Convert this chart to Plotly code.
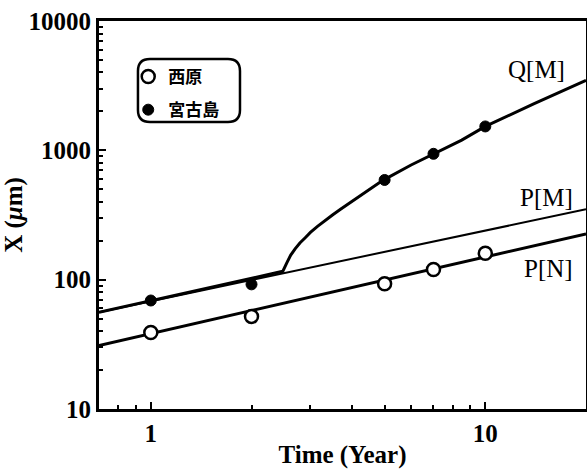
import plotly.graph_objects as go
import numpy as np

# Data
years_obs = [1, 2, 5, 7, 10]
nishihara = [39, 52, 93, 120, 160]          # open circles (西原)
miyako = [69, 92, 590, 940, 1530]           # filled circles (宮古島)

pn_x = [0.7, 20]
pn_y = [31, 226]                            # P[N] line
pm_x = [0.7, 20]
pm_y = [56, 350]                            # P[M] line
q_x = [0.7, 2.48, 2.55, 2.62, 2.7, 2.79, 2.9, 3.0, 3.15, 3.3, 3.5, 3.7, 3.95, 4.2, 4.5, 4.94, 6, 7, 8.5, 10, 14, 20]
q_y = [56, 116, 135, 155, 173, 192, 212, 232, 258, 285, 318, 352, 395, 438, 495, 586, 770, 940, 1200, 1530, 2300, 3470]  # Q[M] curve

SERIF = "Liberation Serif"
CJK = "Noto Sans CJK JP"

fig = go.Figure()
fig.add_trace(go.Scatter(x=pn_x, y=pn_y, mode="lines", line=dict(color="black", width=3),
                         showlegend=False, hoverinfo="skip"))
fig.add_trace(go.Scatter(x=pm_x, y=pm_y, mode="lines", line=dict(color="black", width=2),
                         showlegend=False, hoverinfo="skip"))
fig.add_trace(go.Scatter(x=q_x, y=q_y, mode="lines", line=dict(color="black", width=3, shape="linear"),
                         showlegend=False, hoverinfo="skip"))
fig.add_trace(go.Scatter(x=years_obs, y=nishihara, mode="markers", name="西原", legendgroup="a",
                         marker=dict(symbol="circle", size=13, color="white",
                                     line=dict(color="black", width=2.5))))
fig.add_trace(go.Scatter(x=years_obs, y=miyako, mode="markers", name="宮古島", legendgroup="b",
                         marker=dict(symbol="circle", size=11, color="black",
                                     line=dict(color="black", width=1))))

# rounded legend frame (paper coords)
x0, x1, y0, y1 = 0.080, 0.2895, 0.740, 0.902
rx, ry = 12 / 487, 12 / 388
path = (f"M {x0+rx},{y1} L {x1-rx},{y1} Q {x1},{y1} {x1},{y1-ry} "
        f"L {x1},{y0+ry} Q {x1},{y0} {x1-rx},{y0} L {x0+rx},{y0} "
        f"Q {x0},{y0} {x0},{y0+ry} L {x0},{y1-ry} Q {x0},{y1} {x0+rx},{y1} Z")
fig.add_shape(type="path", path=path, xref="paper", yref="paper",
              line=dict(color="black", width=2.5), fillcolor="rgba(0,0,0,0)")

labels = [("Q[M]", 0.899, 0.876), ("P[M]", 0.918, 0.546), ("P[N]", 0.922, 0.361)]
for t, ax, ay in labels:
    fig.add_annotation(text=t, x=ax, y=ay, xref="paper", yref="paper", showarrow=False,
                       xanchor="center", yanchor="middle",
                       font=dict(family=SERIF, size=25, color="black"))

axis_common = dict(type="log", showgrid=False, zeroline=False, showline=True, linecolor="black",
                   linewidth=3, mirror=True, ticks="inside", ticklen=7, tickwidth=2, tickcolor="black",
                   tickfont=dict(family=SERIF, size=25, color="black", weight="bold"),
                   exponentformat="none", dtick=1, tickformat="d", automargin=False,
                   minor=dict(ticks="inside", ticklen=4, tickwidth=2, tickcolor="black", dtick="D1",
                              showgrid=False))

fig.update_xaxes(**axis_common, range=[np.log10(0.7), np.log10(20)],
                 title=dict(text="Time (Year)", standoff=0,
                            font=dict(family=SERIF, size=25, color="black", weight="bold")))
fig.update_yaxes(**axis_common, range=[1, 4],
                 title=dict(text="X (<i>μ</i>m)", standoff=0,
                            font=dict(family=SERIF, size=25, color="black", weight="bold")))

fig.update_layout(
    width=587, height=475,
    margin=dict(l=99, r=1, t=21, b=66, pad=0),
    plot_bgcolor="white", paper_bgcolor="white",
    showlegend=True,
    legend=dict(x=0.06, y=0.902, xanchor="left", yanchor="top", bgcolor="rgba(0,0,0,0)",
                borderwidth=0, font=dict(family=CJK, size=17, color="black", weight="bold"),
                tracegroupgap=8, traceorder="grouped"),
)
fig.write_html("out.html", config={"displayModeBar": False},
               post_script="document.body.style.margin='0';document.body.style.padding='0';")
